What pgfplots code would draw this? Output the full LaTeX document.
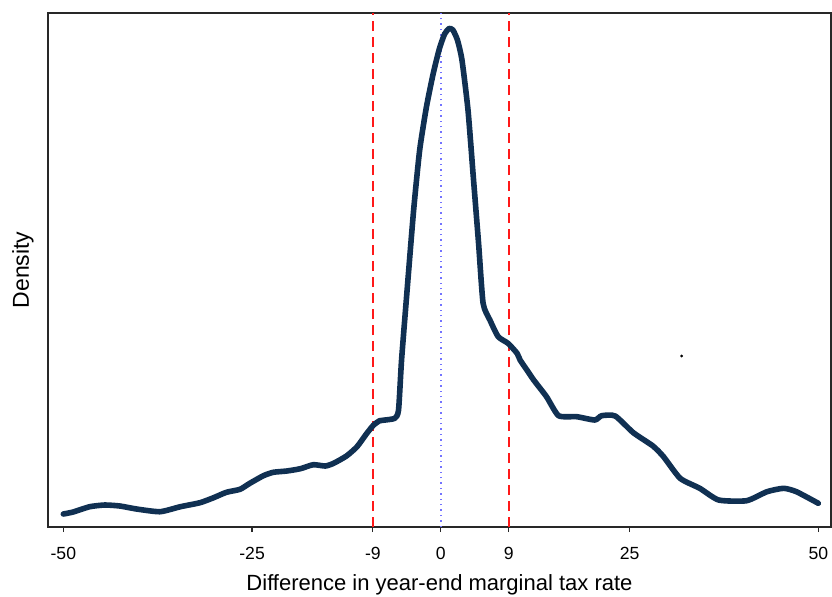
\documentclass[border=0pt]{standalone}
\usepackage{fontspec}
\setmainfont{Liberation Sans}
\usepackage{pgfplots}
\pgfplotsset{compat=1.18}
\definecolor{navy}{RGB}{16,48,82}
\definecolor{frame}{RGB}{40,40,40}
\begin{document}
\begin{tikzpicture}
\begin{axis}[
  scale only axis,
  width=391.5pt, height=257pt,
  xmin=-52.03, xmax=51.68, ymin=0, ymax=514,
  xtick={-50,-25,-9,0,9,25,50},
  xtick pos=bottom,
  ytick=\empty,
  tick align=outside,
  major tick length=2.5pt,
  xtick style={frame, line width=0.6pt},
  axis line style={frame, line width=0.8pt},
  /pgf/number format/assume math mode=true,
  xticklabel style={font=\fontsize{8.8}{10}\selectfont, anchor=center, yshift=-10.5pt},
  xlabel={Difference in year-end marginal tax rate},
  ylabel={Density},
  xlabel style={font=\fontsize{11}{13}\selectfont, anchor=center, at={(rel axis cs:0.5,0)}, yshift=-29pt},
  ylabel style={font=\fontsize{11.5}{13}\selectfont, anchor=center, at={(rel axis cs:0,0.5)}, yshift=12.5pt},
  clip=false,
]
\coordinate (ll) at (rel axis cs:0,0);
\coordinate (ur) at (rel axis cs:1,1);
\addplot[blue!55, line width=0.7pt, dotted] coordinates {(0,0) (0,514)};
\addplot[red!90!white, line width=1pt, dash pattern=on 5pt off 3pt] coordinates {(-9,0) (-9,514)};
\addplot[red!90!white, line width=1pt, dash pattern=on 5pt off 3pt] coordinates {(9,0) (9,514)};
\addplot[navy, line width=2.8pt, line join=round, line cap=round, smooth, tension=0.35] coordinates {
(-50.0,13) (-48.7,15) (-46.5,20.3) (-44.5,22) (-42.5,21) (-40.3,18) (-37.2,15.3)
(-34.5,20.3) (-31.9,24.3) (-30.1,29.3) (-28.4,34.7) (-26.6,37.7) (-25.3,43.7)
(-23.5,51.3) (-22.2,54.7) (-20.4,56) (-18.6,58.3) (-16.9,62.3) (-15.3,61)
(-14.2,63.7) (-12.5,71) (-11.1,80.3) (-9.8,93.7) (-8.9,102) (-8.1,106.3)
(-7.6,106.8) (-6.1,108.7) (-5.6,117) (-5.2,167) (-4.5,233.7) (-3.6,317)
(-2.8,377) (-1.9,420.3) (-1.0,453.7) (-0.2,478) (0.5,493) (1.1,498.5) (1.6,497)
(2.2,487) (2.8,467) (3.6,417) (4.3,350.3) (5.0,283.7) (5.6,223.7) (6.5,207) (7.6,190.3)
(8.9,183.7) (10.1,173.7) (10.5,167) (11.4,157) (12.3,147) (14.0,130.3)
(15.6,111.3) (18.0,110.3) (20.4,107) (21.3,111.3) (23.1,111) (25.5,94.3)
(28.1,81) (29.5,70.3) (31.7,48.7) (34.3,38.7) (36.8,27) (40.5,26.3)
(43.2,35.3) (45.4,38.7) (47.1,35.3) (50.0,23.7)
};
\addplot[only marks, mark=*, mark size=0.5pt, black] coordinates {(31.9,171)};
\end{axis}
\pgfresetboundingbox
\useasboundingbox ([xshift=-24pt,yshift=-34.5pt]ll) rectangle ([xshift=0.5pt,yshift=6.5pt]ur);
\end{tikzpicture}
\end{document}
